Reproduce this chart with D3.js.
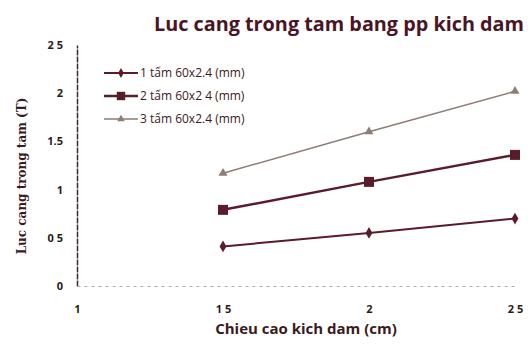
<!DOCTYPE html>
<html><head><meta charset="utf-8">
<script src="https://cdn.jsdelivr.net/npm/d3@7"></script>
<style>body{margin:0;background:#fff}svg{display:block}</style>
</head><body><svg id="c" width="528" height="345"></svg>
<script>
const xValues = [1.5, 2, 2.5];
const seriesNames = ["1 tấm 60x2.4 (mm)", "2 tấm 60x2 4 (mm)", "3 tấm 60x2.4 (mm)"];
const s1 = [0.41, 0.55, 0.70];
const s2 = [0.79, 1.08, 1.36];
const s3 = [1.17, 1.60, 2.02];
const yTicks = [0, 0.5, 1, 1.5, 2, 2.5];
const yTickLabels = ["0", "0 5", "1", "1.5", "2", "2 5"];
const xTicks = [1, 1.5, 2, 2.5];
const xTickLabels = ["1", "1 5", "2", "2 5"];

const svg = d3.select("#c");
const x = d3.scaleLinear().domain([1, 2.5]).range([77, 515]);
const y = d3.scaleLinear().domain([0, 2.5]).range([286, 45]);
const dark = "#5a1b2b";
const grey = "#8c7d76";

svg.append("text").attr("x", 339).attr("y", 31).attr("text-anchor", "middle")
  .attr("font-family", "Open Sans, sans-serif").attr("font-weight", "bold").attr("font-size", 19.5)
  .attr("textLength", 370).attr("lengthAdjust", "spacingAndGlyphs")
  .attr("fill", "#4a1424").text("Luc cang trong tam bang pp kich dam");

// y axis
const ya = svg.append("g").attr("transform", "translate(77,0)")
  .call(d3.axisLeft(y).tickValues(yTicks).tickFormat((d,i)=>yTickLabels[i]).tickSize(0).tickPadding(14));
ya.select(".domain").attr("stroke", "#3a2a2a").attr("stroke-width", 1.5).attr("stroke-dasharray", "6,1");
ya.selectAll("text").attr("font-family", "Open Sans, sans-serif").attr("font-weight", "bold")
  .attr("font-size", 11).attr("fill", "#2a1a1a");

// x axis
const xa = svg.append("g").attr("transform", "translate(0,286)")
  .call(d3.axisBottom(x).tickValues(xTicks).tickFormat((d,i)=>xTickLabels[i]).tickSize(0).tickPadding(19));
xa.select(".domain").attr("stroke", "#aaa").attr("stroke-width", 1).attr("stroke-dasharray", "3,4");
xa.selectAll("text").attr("font-family", "Open Sans, sans-serif").attr("font-weight", "bold")
  .attr("font-size", 11).attr("fill", "#2a1a1a");

svg.append("text").attr("x", 306).attr("y", 334).attr("text-anchor", "middle")
  .attr("font-family", "Open Sans, sans-serif").attr("font-weight", "bold").attr("font-size", 15)
  .attr("fill", "#3a1a22").text("Chieu cao kich dam (cm)");
svg.append("text").attr("transform", "translate(26,176) rotate(-90)").attr("text-anchor", "middle")
  .attr("font-family", "DejaVu Serif, serif").attr("font-weight", "bold").attr("font-size", 12)
  .attr("fill", "#3a1a22").text("Luc cang trong tam (T)");

const series = [
  {vals: s1, color: dark, width: 2, marker: "diamond", size: 40},
  {vals: s2, color: dark, width: 2.5, marker: "square", size: 100},
  {vals: s3, color: grey, width: 1.5, marker: "triangle", size: 35}
];
const symMap = {diamond: d3.symbolDiamond, square: d3.symbolSquare, triangle: d3.symbolTriangle};
const line = d3.line().x(d => x(d[0])).y(d => y(d[1]));
series.forEach(s => {
  const pts = xValues.map((v,i)=>[v, s.vals[i]]);
  svg.append("path").attr("d", line(pts)).attr("fill", "none").attr("stroke", s.color).attr("stroke-width", s.width);
  svg.selectAll(null).data(pts).enter().append("path")
    .attr("transform", d => `translate(${x(d[0])},${y(d[1])})`)
    .attr("d", d3.symbol().type(symMap[s.marker]).size(s.size)).attr("fill", s.color);
});

// legend
const legY = [73, 96, 119];
series.forEach((s, i) => {
  const g = svg.append("g").attr("transform", `translate(0,${legY[i]})`);
  g.append("line").attr("x1", 104).attr("x2", 138).attr("y1", 0).attr("y2", 0)
    .attr("stroke", s.color).attr("stroke-width", s.width);
  g.append("path").attr("transform", "translate(121,0)")
    .attr("d", d3.symbol().type(symMap[s.marker]).size(s.size * 0.7)).attr("fill", s.color);
  g.append("text").attr("x", 140).attr("y", 4).attr("font-family", "Open Sans, sans-serif")
    .attr("font-size", 12).attr("fill", "#3a1a22").text(seriesNames[i]);
});
</script></body></html>
